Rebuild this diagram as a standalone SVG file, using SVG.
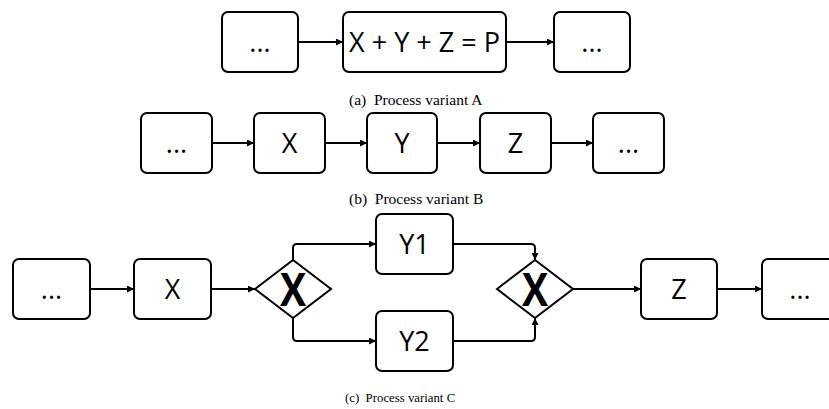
<svg xmlns="http://www.w3.org/2000/svg" width="829" height="409" viewBox="0 0 829 409">
  <defs>
    <marker id="arrow" viewBox="0 0 10 10" refX="10" refY="5" markerWidth="9" markerHeight="7" markerUnits="userSpaceOnUse" orient="auto">
      <path d="M0,0 L10,5 L0,10 Z" fill="#000"/>
    </marker>
    <style>
      .box { fill: #fff; stroke: #000; stroke-width: 2; }
      .gw { fill: #fff; stroke: #000; stroke-width: 2; stroke-linejoin: miter; }
      .lbl { font-family: "Open Sans", "Noto Sans", sans-serif; font-size: 27px; fill: #000; text-anchor: middle; }
      .gwl { font-family: "Open Sans", "Noto Sans", sans-serif; font-weight: bold; font-size: 46px; fill: #000; text-anchor: middle; }
      .cap { font-family: "Liberation Serif", "Times New Roman", serif; fill: #000; white-space: pre; }
      .edge { fill: none; stroke: #000; stroke-width: 2; marker-end: url(#arrow); }
    </style>
  </defs>
  <rect width="829" height="409" fill="#fff"/>

  <!-- connectors -->
  <g id="connectors">
    <!-- variant A -->
    <path class="edge" d="M298,42 H343"/>
    <path class="edge" d="M506,42 H554"/>
    <!-- variant B -->
    <path class="edge" d="M212,143 H254"/>
    <path class="edge" d="M325,143 H367"/>
    <path class="edge" d="M437,143 H480"/>
    <path class="edge" d="M551,143 H593"/>
    <!-- variant C -->
    <path class="edge" d="M90,289 H134"/>
    <path class="edge" d="M211,289 H255"/>
    <path class="edge" d="M293,260 V248 Q293,244 297,244 H376"/>
    <path class="edge" d="M293,318 V337 Q293,341 297,341 H376"/>
    <path class="edge" d="M453,244 H531 Q535,244 535,248 V260"/>
    <path class="edge" d="M453,341 H531 Q535,341 535,337 V318"/>
    <path class="edge" d="M573,289 H641"/>
    <path class="edge" d="M717,289 H762"/>
  </g>

  <!-- variant A -->
  <g id="a-pre">
    <rect class="box" x="222" y="12" width="76" height="60" rx="6"/>
    <text class="lbl" x="260" y="52">...</text>
  </g>
  <g id="a-xyz">
    <rect class="box" x="343" y="12" width="163" height="60" rx="6"/>
    <text class="lbl" x="424.5" y="52">X + Y + Z = P</text>
  </g>
  <g id="a-post">
    <rect class="box" x="554" y="12" width="76" height="60" rx="6"/>
    <text class="lbl" x="592" y="52">...</text>
  </g>
  <text class="cap" x="349" y="105" font-size="15.5" xml:space="preserve">(a)  Process variant A</text>

  <!-- variant B -->
  <g id="b-pre">
    <rect class="box" x="141" y="113" width="71" height="60" rx="6"/>
    <text class="lbl" x="176.5" y="153">...</text>
  </g>
  <g id="b-x">
    <rect class="box" x="254" y="113" width="71" height="60" rx="6"/>
    <text class="lbl" x="289.5" y="153">X</text>
  </g>
  <g id="b-y">
    <rect class="box" x="367" y="113" width="70" height="60" rx="6"/>
    <text class="lbl" x="402" y="153">Y</text>
  </g>
  <g id="b-z">
    <rect class="box" x="480" y="113" width="71" height="60" rx="6"/>
    <text class="lbl" x="515.5" y="153">Z</text>
  </g>
  <g id="b-post">
    <rect class="box" x="593" y="113" width="71" height="60" rx="6"/>
    <text class="lbl" x="628.5" y="153">...</text>
  </g>
  <text class="cap" x="349" y="204" font-size="15.5" xml:space="preserve">(b)  Process variant B</text>

  <!-- variant C -->
  <g id="c-pre">
    <rect class="box" x="13" y="259" width="77" height="60" rx="6"/>
    <text class="lbl" x="51.5" y="299">...</text>
  </g>
  <g id="c-x">
    <rect class="box" x="134" y="259" width="77" height="60" rx="6"/>
    <text class="lbl" x="172.5" y="299">X</text>
  </g>
  <g id="c-split">
    <polygon class="gw" points="255,289 293,260 331,289 293,318"/>
    <text class="gwl" transform="translate(293,306) scale(0.85,1)">X</text>
  </g>
  <g id="c-y1">
    <rect class="box" x="376" y="214" width="77" height="60" rx="6"/>
    <text class="lbl" x="414.5" y="254">Y1</text>
  </g>
  <g id="c-y2">
    <rect class="box" x="376" y="311" width="77" height="60" rx="6"/>
    <text class="lbl" x="414.5" y="351">Y2</text>
  </g>
  <g id="c-join">
    <polygon class="gw" points="497,289 535,260 573,289 535,318"/>
    <text class="gwl" transform="translate(535,306) scale(0.85,1)">X</text>
  </g>
  <g id="c-z">
    <rect class="box" x="641" y="259" width="76" height="60" rx="6"/>
    <text class="lbl" x="679" y="299">Z</text>
  </g>
  <g id="c-post">
    <rect class="box" x="762" y="259" width="80" height="60" rx="6"/>
    <text class="lbl" x="800" y="299">...</text>
  </g>
  <text class="cap" x="345" y="402" font-size="12.8" xml:space="preserve">(c)  Process variant C</text>
</svg>
